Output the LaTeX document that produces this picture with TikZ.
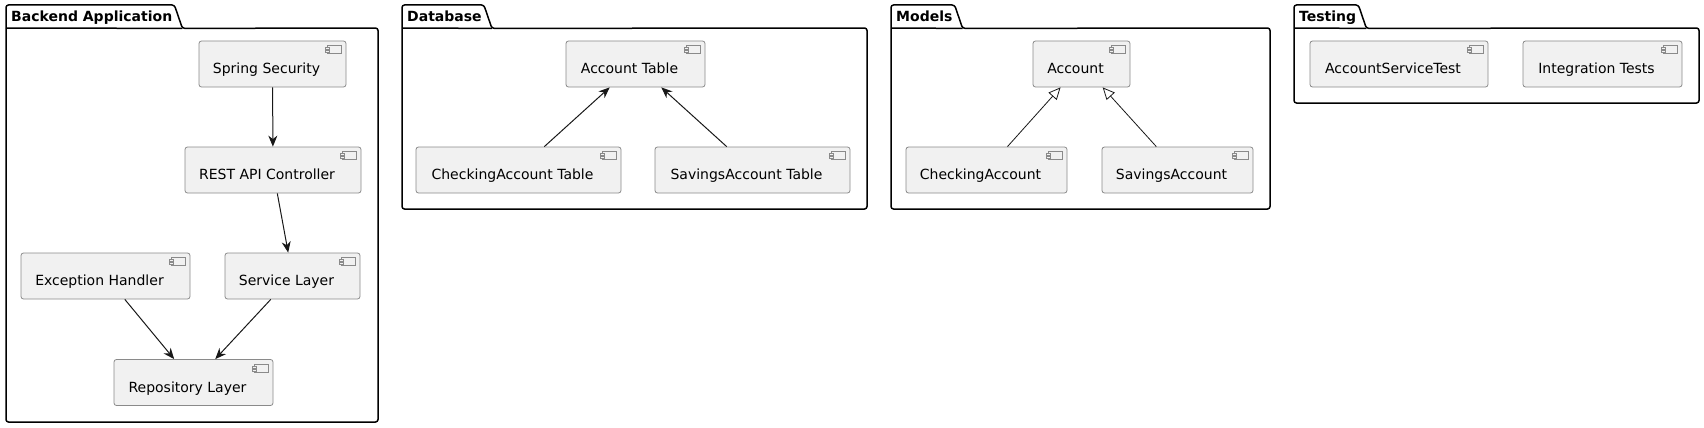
\documentclass[tikz,border=0pt]{standalone}
\usepackage{fontspec}
\setmainfont{DejaVu Sans}
\usepackage{tikz}
\usetikzlibrary{arrows.meta}
\definecolor{boxc}{HTML}{F1F1F1}
\definecolor{linec}{HTML}{181818}
\definecolor{edgec}{HTML}{8A8A8A}
\tikzset{%
  comp/.style={
    draw=edgec,
    fill=boxc,
    line width=0.8pt,
    rounded corners=2.5pt,
    minimum height=46pt,
    inner sep=0pt,
    text height=22pt,
    text depth=3pt,
    font=\fontsize{14pt}{17pt}\selectfont,
    execute at end node=\hspace{12pt}
  },
  icon/.style={
    draw=edgec,
    fill=boxc,
    line width=0.7pt
  },
  pkgtitle/.style={
    anchor=north west,
    inner xsep=5pt,
    inner ysep=0pt,
    minimum height=23pt,
    text height=12pt,
    text depth=3pt,
    font=\fontsize{14pt}{17pt}\selectfont\bfseries
  },
  pkg/.style={
    draw=black,
    line width=1.5pt,
    rounded corners=2.5pt
  },
  dep/.style={
    draw=linec,
    line width=1pt,
    -{Stealth[length=11pt,width=9pt,inset=3.5pt]}
  },
  inh/.style={
    draw=linec,
    line width=0.8pt,
    -{Triangle[length=12pt,width=11pt,fill=white]}
  },
}

\begin{document}
\begin{tikzpicture}[x=1pt,y=-1pt]
          \useasboundingbox (0,0) rectangle (1704,428);
          \foreach \n/\l/\r/\b/\t in {back/6/378/422/Backend Application, db/402/867/209/Database, mod/891/1270/209/Models, tst/1294/1699/103/Testing} {
              \node[pkgtitle] (\n) at (\l,5) {\t};
              \draw[pkg] (\l,28) -- (\l,5) -- ([xshift=-3pt]\n.north east) -- ([xshift=5pt]\n.south east) -- (\r,28) -- (\r,\b) -- (\l,\b) -- cycle;
              \draw[pkg] (\l,28) -- ([xshift=5pt]\n.south east);
          }
          \node[comp, minimum width=147pt] (sec) at (272.5,64) {Spring Security};
          \node[comp, minimum width=176pt] (rest) at (273,170) {REST API Controller};
          \node[comp, minimum width=169pt] (exc) at (105.5,276) {Exception Handler};
          \node[comp, minimum width=135pt] (svc) at (292.5,276) {Service Layer};
          \node[comp, minimum width=159pt] (repo) at (193.5,382.5) {Repository Layer};
          \node[comp, minimum width=139pt] (acctT) at (635.5,64) {Account Table};
          \node[comp, minimum width=205pt] (chkT) at (518.5,170) {CheckingAccount Table};
          \node[comp, minimum width=195pt] (savT) at (752.5,170) {SavingsAccount Table};
          \node[comp, minimum width=97pt] (acc) at (1081.5,64) {Account};
          \node[comp, minimum width=161pt] (chk) at (986.5,170) {CheckingAccount};
          \node[comp, minimum width=151pt] (sav) at (1177.5,170) {SavingsAccount};
          \node[comp, minimum width=178pt] (ast) at (1399,64) {AccountServiceTest};
          \node[comp, minimum width=159pt] (integ) at (1602.5,64) {Integration Tests};
          \foreach \n in {sec,rest,exc,svc,repo,acctT,chkT,savT,acc,chk,sav,ast,integ} {
              \draw[icon] ([shift={(-19,5)}]\n.north east) rectangle ++(14,8);
              \draw[icon] ([shift={(-21.5,7)}]\n.north east) rectangle ++(4,2);
              \draw[icon] ([shift={(-21.5,10)}]\n.north east) rectangle ++(4,2);
          }
          \foreach \a/\b in {sec/rest, rest/svc, exc/repo, svc/repo, chkT/acctT, savT/acctT} {
              \draw[dep] (\a) -- (\b);
          }
          \foreach \a in {chk,sav} {
              \draw[inh] (\a) -- (acc);
          }
\end{tikzpicture}
\end{document}
